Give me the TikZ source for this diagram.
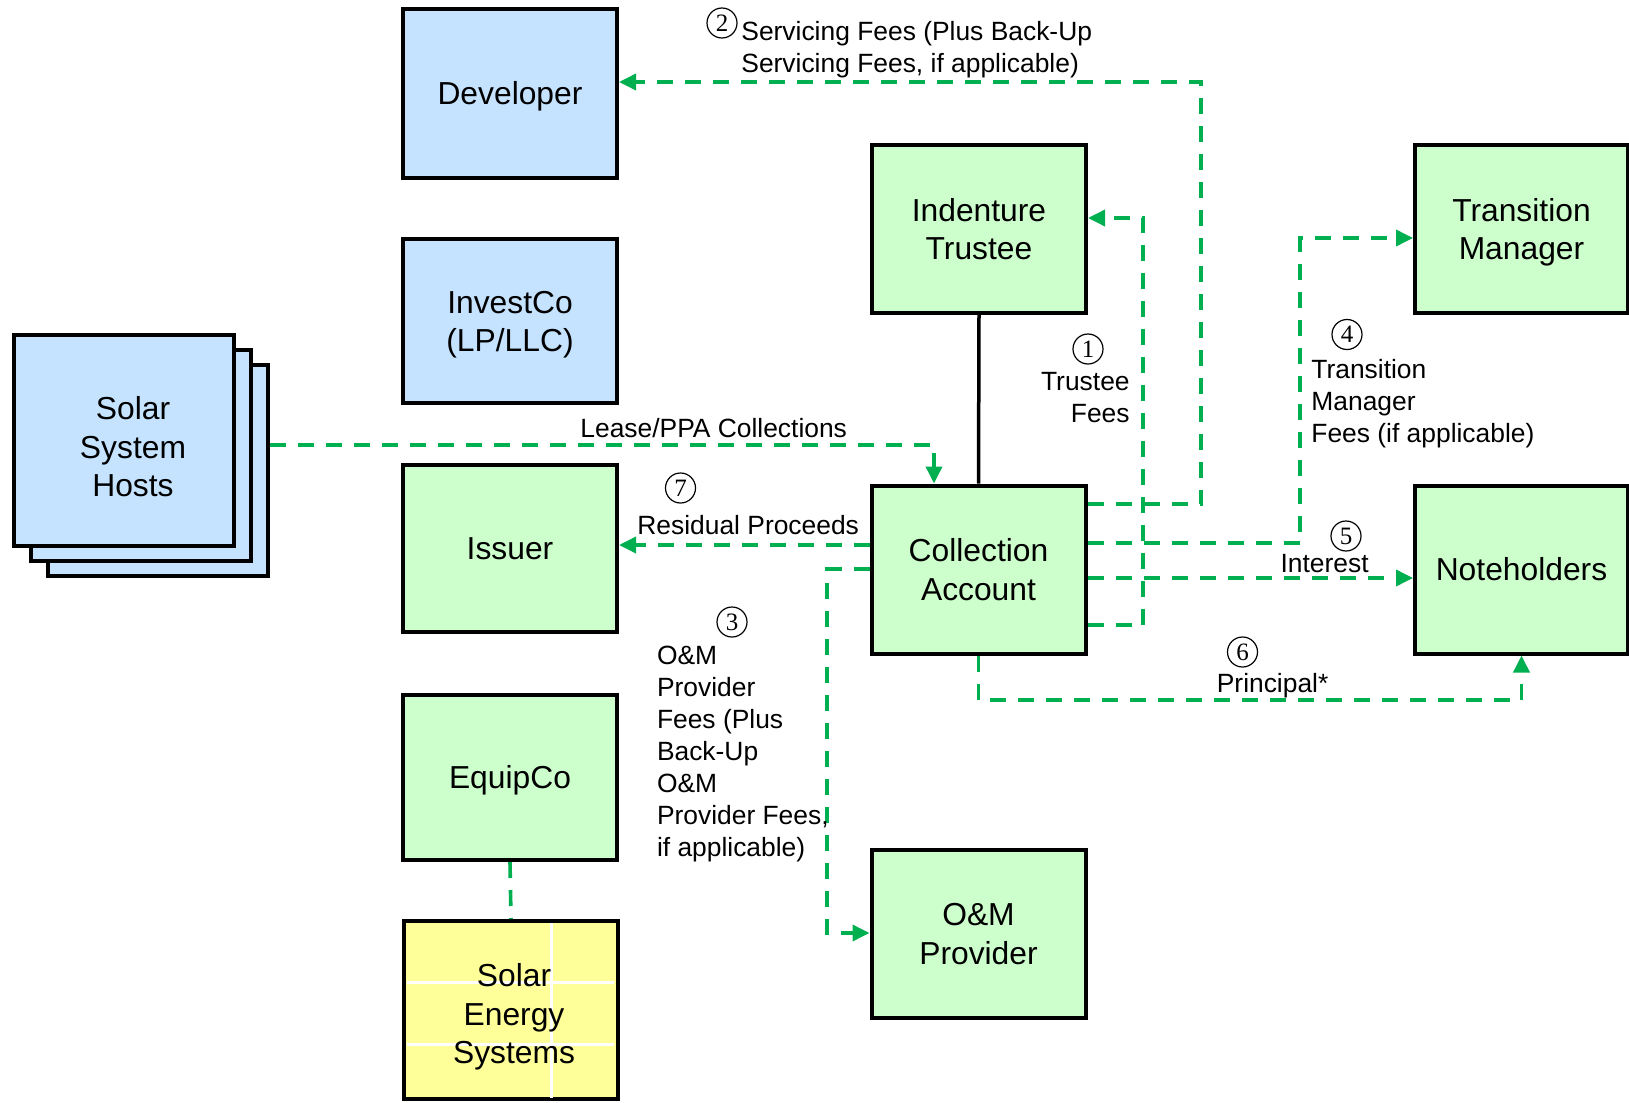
\documentclass[tikz,border=0pt]{standalone}
\usepackage{fontspec}
\setmainfont{Liberation Sans}
\newfontfamily\numfont{Liberation Serif}
\usetikzlibrary{arrows.meta,calc}
\definecolor{hostblue}{RGB}{197,227,255}
\definecolor{boxgreen}{RGB}{204,255,204}
\definecolor{sysyellow}{RGB}{255,255,153}
\definecolor{flowgreen}{RGB}{0,176,80}
% box caption: stacked lines, set a little lower than the geometric centre
\newcommand\boxtext[1]{\raisebox{-1.8pt}[\height][\depth]{\begin{tabular}{@{}c@{}}#1\end{tabular}}}

\begin{document}
\begin{tikzpicture}[x=0.5pt,y=-0.5pt,
  boxfont/.style={font=\fontsize{15.9}{19.25}\selectfont},
  box/.style={draw=black, line width=2pt, minimum width=107pt, minimum height=84pt,
              inner sep=0pt, align=center, boxfont},
  bluebox/.style={box, fill=hostblue},
  greenbox/.style={box, fill=boxgreen},
  link/.style={draw=flowgreen, line width=1.8pt, dash pattern=on 8pt off 6pt},
  flow/.style={link, -{Triangle[length=8.5pt,width=8pt]}},
  lbl/.style={font=\fontsize{13.2}{16}\selectfont, inner sep=0pt},
  num/.style={circle, draw, line width=0.6pt, minimum size=15pt, inner sep=0pt,
              font=\numfont\fontsize{12.5}{12.5}\selectfont},
]
\fill[white] (0,0) rectangle (1629,1103);
\useasboundingbox (0,0) rectangle (1629,1103);

% left column
\node[bluebox, minimum height=84.5pt] (dev) at (510,93.5) {\boxtext{Developer}};
\node[bluebox, minimum height=82pt] (invest) at (510,321) {\boxtext{InvestCo\\(LP/LLC)}};
\node[greenbox, minimum height=83.5pt] (issuer) at (510,548.5) {\boxtext{Issuer}};
\node[greenbox, minimum height=82.5pt] (equip) at (510,777.5) {\boxtext{EquipCo}};

% solar energy systems panel
\node[box, fill=sysyellow, minimum height=89pt] (ses) at (511,1010) {};
\draw[white, line width=1.5pt] (551,923) -- (551,1098);
\draw[white, line width=1.5pt] (407,982) -- (614,982);
\draw[white, line width=1.5pt] (407,1044) -- (614,1044);
\node[boxfont, align=center, inner sep=0pt] (sestext) at (514,1017) {Solar\\Energy\\Systems};

% stacked hosts
\node[bluebox, minimum width=110pt, minimum height=105.5pt] (hosts3) at (158,470.5) {};
\node[bluebox, minimum width=110pt, minimum height=105.5pt] (hosts2) at (141,455.5) {};
\node[bluebox, minimum width=110pt, minimum height=105.5pt] (hosts) at (124,440.5) {};
\node[boxfont, align=center, inner sep=0pt] (hoststext) at (133,447) {Solar\\System\\Hosts};

% middle column
\node[greenbox] (trustee) at (979,229) {\boxtext{Indenture\\Trustee}};
\node[greenbox] (coll) at (978.5,569.5) {\boxtext{Collection\\Account}};
\node[greenbox] (om) at (978.5,933.5) {\boxtext{O\&M\\Provider}};

% right column
\node[greenbox, minimum width=106.5pt] (tm) at (1521.5,229) {\boxtext{Transition\\Manager}};
\node[greenbox, minimum width=106.5pt] (note) at (1521.5,569.5) {\boxtext{Noteholders}};

% connectors
\draw[line width=1.75pt] (trustee.south) -- (coll.north);
\draw[flow] (hosts3.east |- 0,445) -| (coll.north -| 934,0);
\draw[flow] (coll.east |- 0,504) -| (1201,82) -- (dev.east |- 0,82);
\draw[flow] (coll.east |- 0,625) -| (1143,218) -- (trustee.east |- 0,218);
\draw[flow] (coll.east |- 0,543) -| (1300,238) -- (tm.west |- 0,238);
\draw[flow] (coll.east |- 0,578) -- (note.west |- 0,578);
\draw[flow] (coll.south) -- (coll.south |- 0,700) -| (note.south);
\draw[flow] (coll.west |- 0,545) -- (issuer.east |- 0,545);
\draw[flow] (coll.west |- 0,569) -| (827,933) -- (om.west |- 0,933);
\draw[link] (equip.south) -- (ses.north);

% labels
\node[lbl, anchor=west] (lease) at (580,428) {Lease/PPA Collections};
\node[num] (n2) at (722,23) {2};
\node[lbl, anchor=west, align=left] (servlbl) at (741,50) {Servicing Fees (Plus Back-Up\\Servicing Fees, if applicable)};
\node[num] (n1) at (1088,349) {1};
\node[lbl, anchor=east, align=right] (trlbl) at (1130,398) {Trustee\\Fees};
\node[num] (n4) at (1347,334.5) {4};
\node[lbl, anchor=west, align=left] (tmlbl) at (1311,404) {Transition\\Manager\\Fees (if applicable)};
\node[num] (n7) at (680.5,488) {7};
\node[lbl, anchor=west] (reslbl) at (637,525) {Residual Proceeds};
\node[num] (n5) at (1346,536) {5};
\node[lbl] (intlbl) at (1324.6,564) {Interest};
\node[num] (n6) at (1242.5,652) {6};
\node[lbl] (prlbl) at (1272.6,686) {Principal*};
\node[num] (n3) at (732,622) {3};
\node[lbl, anchor=west, align=left] (omlbl) at (656.6,754.5) {O\&M\\Provider\\Fees (Plus\\Back-Up\\O\&M\\Provider Fees,\\if applicable)};
\end{tikzpicture}
\end{document}
